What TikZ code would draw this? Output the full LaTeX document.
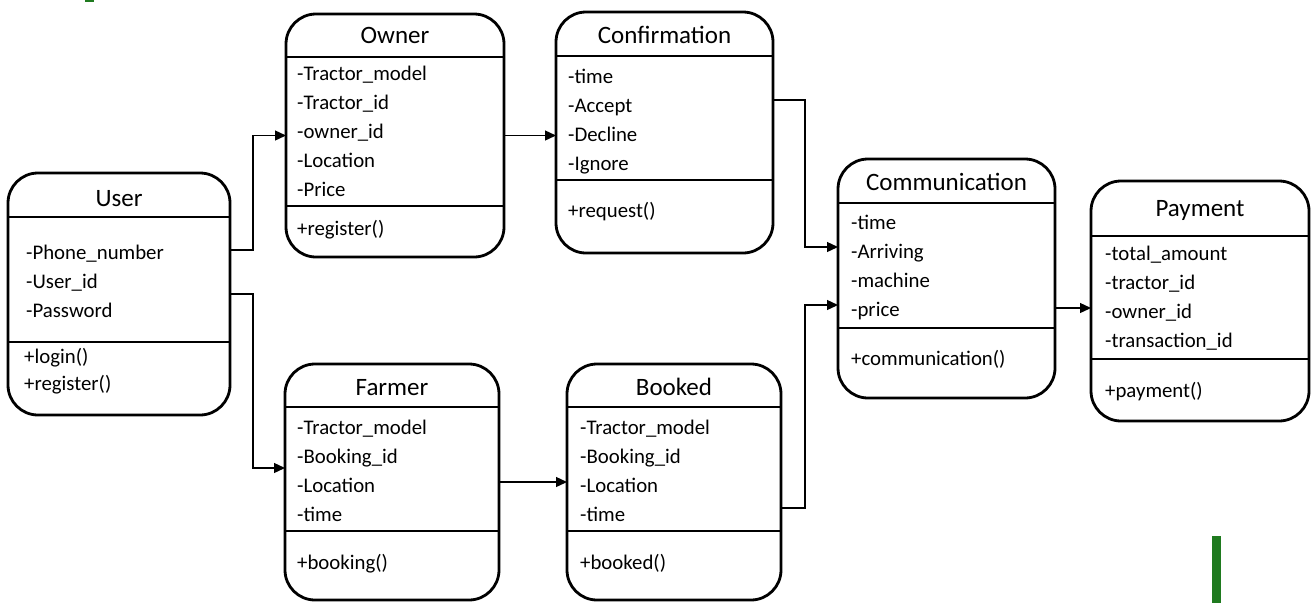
\documentclass[tikz,border=0pt]{standalone}
\usepackage{fontspec}
\setmainfont{Carlito}
\usetikzlibrary{arrows.meta}
\definecolor{mkgreen}{RGB}{31,122,31}
\begin{document}
\begin{tikzpicture}[x=1pt,y=-1pt,
  umlbox/.style={draw, line width=2.8pt, rounded corners=30pt, inner sep=0pt, outer sep=0pt},
  div/.style={line width=1.4pt},
  ttl/.style={font=\fontsize{25}{30}\selectfont, anchor=base, inner sep=0pt},
  attr/.style={font=\fontsize{20.8}{25}\selectfont, anchor=base west, inner sep=0pt},
  conn/.style={line width=1.3pt, -{Triangle[length=11pt,width=10pt]}}]
\useasboundingbox (0,0) rectangle (1313,603);

% boxes
\node[umlbox, minimum width=222pt, minimum height=242pt] (user) at (119,294) {};
\node[umlbox, minimum width=218pt, minimum height=243pt] (owner) at (395,135.5) {};
\node[umlbox, minimum width=217pt, minimum height=241pt] (confirmation) at (664.5,132.5) {};
\node[umlbox, minimum width=217pt, minimum height=239pt] (comm) at (946.5,278.5) {};
\node[umlbox, minimum width=218pt, minimum height=240pt] (payment) at (1200,301) {};
\node[umlbox, minimum width=214pt, minimum height=236pt] (farmer) at (392,482) {};
\node[umlbox, minimum width=214pt, minimum height=236pt] (booked) at (674,482) {};

% dividers
\foreach \b/\da/\db in {user/44/169, owner/43/192, confirmation/44/168, comm/44/169, payment/55/178, farmer/43/167, booked/43/167}{
  \draw[div] ([yshift=-\da pt]\b.north west) -- ([yshift=-\da pt]\b.north east);
  \draw[div] ([yshift=-\db pt]\b.north west) -- ([yshift=-\db pt]\b.north east);
}

% titles
\node[ttl] (user-t) at (119,206) {User};
\node[ttl] (owner-t) at (395,43) {Owner};
\node[ttl] (confirmation-t) at (664.5,43) {Confirmation};
\node[ttl] (comm-t) at (946.5,190) {Communication};
\node[ttl] (payment-t) at (1200,216) {Payment};
\node[ttl] (farmer-t) at (392,395) {Farmer};
\node[ttl] (booked-t) at (674,395) {Booked};

% User
\foreach \t [count=\i] in {-Phone\_number,-User\_id,-Password}
  \node[attr] (user-a\i) at (26,{259+29*(\i-1)}) {\t};
\node[attr] (user-m1) at (24,363) {+login()};
\node[attr] (user-m2) at (24,390) {+register()};

% Owner
\foreach \t [count=\i] in {-Tractor\_model,-Tractor\_id,-owner\_id,-Location,-Price}
  \node[attr] (owner-a\i) at (297,{80+29*(\i-1)}) {\t};
\node[attr] (owner-m1) at (297,235) {+register()};

% Confirmation
\foreach \t [count=\i] in {-time,-Accept,-Decline,-Ignore}
  \node[attr] (confirmation-a\i) at (568,{83+29*(\i-1)}) {\t};
\node[attr] (confirmation-m1) at (568,217) {+request()};

% Communication
\foreach \t [count=\i] in {-time,-Arriving,-machine,-price}
  \node[attr] (comm-a\i) at (851,{229+29*(\i-1)}) {\t};
\node[attr] (comm-m1) at (851,365) {+communication()};

% Payment
\foreach \t [count=\i] in {-total\_amount,-tractor\_id,-owner\_id,-transaction\_id}
  \node[attr] (payment-a\i) at (1105,{260+29*(\i-1)}) {\t};
\node[attr] (payment-m1) at (1105,397) {+payment()};

% Farmer
\foreach \t [count=\i] in {-Tractor\_model,-Booking\_id,-Location,-time}
  \node[attr] (farmer-a\i) at (297,{434+29*(\i-1)}) {\t};
\node[attr] (farmer-m1) at (297,569) {+booking()};

% Booked
\foreach \t [count=\i] in {-Tractor\_model,-Booking\_id,-Location,-time}
  \node[attr] (booked-a\i) at (580,{434+29*(\i-1)}) {\t};
\node[attr] (booked-m1) at (580,569) {+booked()};

% connectors
\draw[conn] ([yshift=44pt]user.east) -- ++(23,0) |- (owner.west);
\draw[conn] (user.east) -- ++(23,0) |- ([yshift=14pt]farmer.west);
\draw[conn] (owner.east) -- (owner.east -| confirmation.west);
\draw[conn] ([yshift=32.5pt]confirmation.east) -- ++(32,0) |- ([yshift=31.5pt]comm.west);
\draw[conn] (farmer.east) -- (booked.west);
\draw[conn] ([yshift=-26pt]booked.east) -- ++(24,0) |- ([yshift=-26.5pt]comm.west);
\coordinate (c7s) at ([yshift=-29.5pt]comm.east);
\draw[conn] (c7s) -- (c7s -| payment.west);

% green marks
\fill[mkgreen] (85,0) rectangle (94,2);
\fill[mkgreen] (1212,536) rectangle (1221,603);
\end{tikzpicture}
\end{document}
